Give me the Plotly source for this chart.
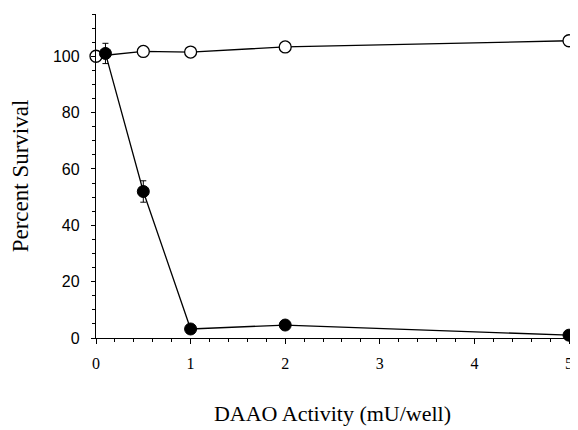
import plotly.graph_objects as go

# Data
control_x = [0, 0.5, 1, 2, 5]
control_y = [100, 101.7, 101.5, 103.3, 105.5]

treated_x = [0.1, 0.5, 1, 2, 5]
treated_y = [101, 52, 3.2, 4.6, 1.0]
treated_err = [3.6, 3.8, 0.8, 0.8, 0.5]

x_tick_vals = [0, 1, 2, 3, 4, 5]
x_tick_text = ["0", "1", "2", "3", "4", "5"]
y_tick_vals = [0, 20, 40, 60, 80, 100]
y_tick_text = ["0", "20", "40", "60", "80", "100"]

fig = go.Figure()

fig.add_trace(go.Scatter(
    x=control_x, y=control_y, mode="lines+markers",
    line=dict(color="black", width=1.3),
    marker=dict(symbol="circle", size=12, color="white",
                line=dict(color="black", width=1.3)),
    cliponaxis=False, showlegend=False,
))

fig.add_trace(go.Scatter(
    x=treated_x, y=treated_y, mode="lines+markers",
    line=dict(color="black", width=1.3),
    marker=dict(symbol="circle", size=12, color="black",
                line=dict(color="black", width=1)),
    error_y=dict(type="data", array=treated_err, visible=True,
                 color="black", thickness=1, width=3),
    cliponaxis=False, showlegend=False,
))

# page body has an 8px margin, so the figure is sized to fit the window
fig.update_layout(
    width=570, height=422,
    margin=dict(l=88, r=5, t=6, b=92),
    paper_bgcolor="white", plot_bgcolor="white",
    showlegend=False,
)

fig.update_xaxes(
    range=[0, 5], showgrid=False, zeroline=False,
    showline=True, linecolor="black", linewidth=1.3,
    tickmode="array", tickvals=x_tick_vals, ticktext=x_tick_text,
    ticks="outside", ticklen=5, tickwidth=1.2, tickcolor="black",
    minor=dict(dtick=0.2, ticks="outside", ticklen=3, tickwidth=1, tickcolor="black"),
    tickfont=dict(family="Liberation Serif", size=16, color="black"),
    ticklabelstandoff=6,
    title=dict(text="DAAO Activity (mU/well)", standoff=34,
               font=dict(family="Liberation Serif", size=22, color="black")),
)

fig.update_yaxes(
    range=[0, 115], showgrid=False, zeroline=False,
    showline=True, linecolor="black", linewidth=1.3,
    tickmode="array", tickvals=y_tick_vals, ticktext=y_tick_text,
    ticks="outside", ticklen=4, tickwidth=1.2, tickcolor="black",
    minor=dict(dtick=5, ticks="outside", ticklen=3, tickwidth=1, tickcolor="black"),
    tickfont=dict(family="Liberation Sans", size=16, color="black"),
    ticklabelstandoff=8,
    title=dict(text="Percent Survival", standoff=20,
               font=dict(family="Liberation Serif", size=23, color="black")),
)

fig.write_html("out.html")
